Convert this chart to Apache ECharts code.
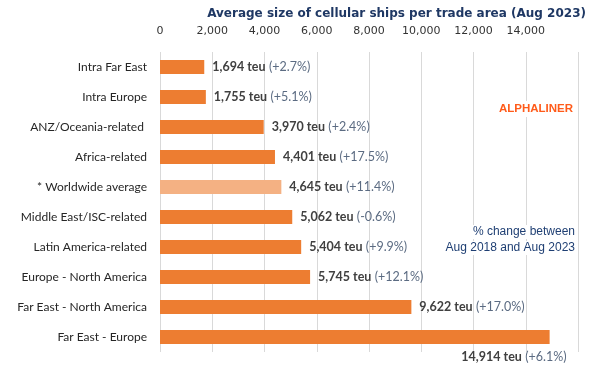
<!DOCTYPE html>
<html><head><meta charset="utf-8">
<script src="https://cdn.jsdelivr.net/npm/echarts@6/dist/echarts.min.js"></script>
<style>html,body{margin:0;padding:0;background:#fff}#c{width:592px;height:372px}</style>
</head><body><div id="c"></div>
<script>
const categories = ['Intra Far East','Intra Europe','ANZ/Oceania-related ','Africa-related','* Worldwide average','Middle East/ISC-related','Latin America-related','Europe - North America','Far East - North America','Far East - Europe'];
const values = [1694, 1755, 3970, 4401, 4645, 5062, 5404, 5745, 9622, 14914];
const changes = ['+2.7%','+5.1%','+2.4%','+17.5%','+11.4%','-0.6%','+9.9%','+12.1%','+17.0%','+6.1%'];
const highlightIndex = 4;
const tickLabels = ['0','2,000','4,000','6,000','8,000','10,000','12,000','14,000'];

const chart = echarts.init(document.getElementById('c'));
const labelFont = 'Lato, "Open Sans", sans-serif';
const fmt = v => v.toLocaleString('en-US');
const data = values.map((v, i) => {
  const d = { value: v, itemStyle: { color: i === highlightIndex ? '#f4b183' : '#ed7d31' } };
  if (i === values.length - 1) {
    d.label = { position: ['100%', '100%'], align: 'right', verticalAlign: 'top', offset: [17, 6] };
  }
  return d;
});
chart.setOption({
  animation: false,
  title: {
    text: 'Average size of cellular ships per trade area (Aug 2023)',
    right: 1, top: 3,
    textStyle: { fontFamily: '"DejaVu Sans", sans-serif', fontWeight: 'bold', fontSize: 12, color: '#1f3864' }
  },
  grid: { left: 160, right: 14, top: 52, bottom: 20 },
  xAxis: {
    type: 'value', position: 'top', min: 0, max: 16000, interval: 2000,
    axisLine: { show: false }, axisTick: { show: false },
    splitLine: { lineStyle: { color: '#d9d9d9', width: 1 } },
    axisLabel: {
      showMaxLabel: false, margin: 15,
      fontFamily: '"DejaVu Sans", sans-serif', fontSize: 11, color: '#333',
      formatter: (v) => tickLabels[v / 2000] || ''
    }
  },
  yAxis: {
    type: 'category', data: categories, inverse: true,
    axisLine: { show: false }, axisTick: { show: false },
    axisLabel: { margin: 13, fontFamily: labelFont, fontSize: 12, color: '#262626' }
  },
  series: [{
    type: 'bar', data: data, barWidth: 14,
    label: {
      show: true, position: 'right', distance: 8,
      formatter: p => '{a|' + fmt(p.value) + ' teu} {b|(' + changes[p.dataIndex] + ')}',
      rich: {
        a: { fontFamily: labelFont, fontSize: 12.5, fontWeight: 'bold', color: '#404040' },
        b: { fontFamily: labelFont, fontSize: 12.5, color: '#5b6b82' }
      }
    }
  }],
  graphic: [
    { type: 'text', right: 17, top: 101, z: 10, style: { text: 'ALPHALINER', fill: '#ff5b1a', backgroundColor: '#fff', padding: [2, 2], font: 'bold 11.5px "Liberation Sans", sans-serif' } },
    { type: 'text', right: 15, top: 225, z: 10, style: { text: '% change between', fill: '#1f3f73', backgroundColor: '#fff', padding: [1, 2], font: '12px "Liberation Sans", sans-serif' } },
    { type: 'text', right: 15, top: 241, z: 10, style: { text: 'Aug 2018 and Aug 2023', fill: '#1f3f73', backgroundColor: '#fff', padding: [1, 2], font: '12px "Liberation Sans", sans-serif' } }
  ]
});
</script></body></html>
